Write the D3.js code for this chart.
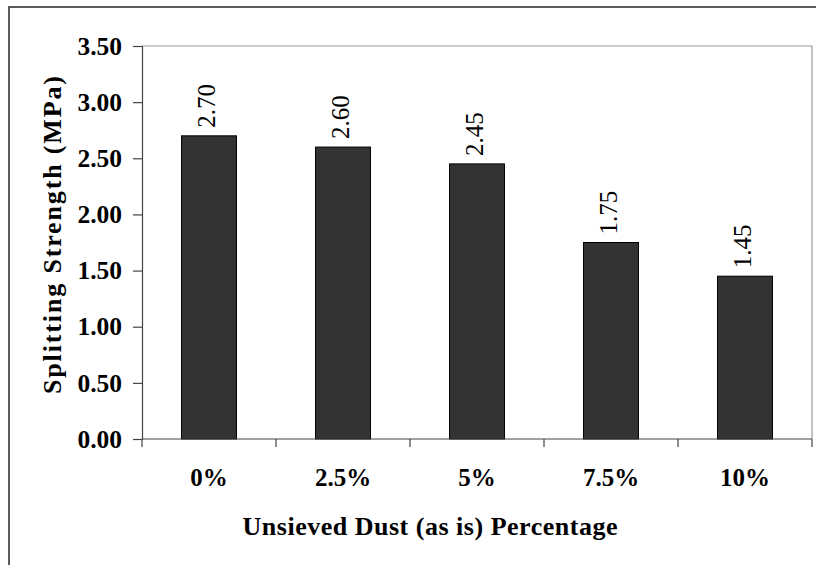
<!DOCTYPE html>
<html><head><meta charset="utf-8">
<script src="https://cdn.jsdelivr.net/npm/d3@7"></script>
<style>
html,body{margin:0;padding:0;background:#fff;}
svg{display:block;}
</style></head>
<body>
<svg id="chart" width="816" height="565"></svg>
<script>
const categories = ["0%", "2.5%", "5%", "7.5%", "10%"];
const values = [2.70, 2.60, 2.45, 1.75, 1.45];
const yTicks = [0, 0.5, 1.0, 1.5, 2.0, 2.5, 3.0, 3.5];
const yTitle = "Splitting Strength (MPa)";
const xTitle = "Unsieved Dust (as is) Percentage";

const svg = d3.select("#chart");
const W = 816, H = 565;
const plot = {left: 142, right: 812, top: 46, bottom: 439};
const font = "'Liberation Serif', 'Times New Roman', serif";

// outer frame
svg.append("rect").attr("x", 9).attr("y", 7).attr("width", W).attr("height", H)
  .attr("fill", "#fff").attr("stroke", "#333").attr("stroke-width", 1.6);

const x = d3.scaleBand().domain(categories).range([plot.left, plot.right])
  .paddingInner(0.59).paddingOuter(0.295);
const y = d3.scaleLinear().domain([0, 3.5]).range([plot.bottom, plot.top]);

// plot area border (top/right gray)
svg.append("path")
  .attr("d", `M${plot.left},${plot.top}H${plot.right}V${plot.bottom}`)
  .attr("fill", "none").attr("stroke", "#999").attr("stroke-width", 1.2);

// bars
svg.append("g").selectAll("rect").data(values).join("rect")
  .attr("x", (d, i) => x(categories[i]))
  .attr("y", d => y(d))
  .attr("width", x.bandwidth())
  .attr("height", d => y(0) - y(d))
  .attr("fill", "#333333").attr("stroke", "#000").attr("stroke-width", 1);

// value labels
svg.append("g").selectAll("text").data(values).join("text")
  .attr("transform", (d, i) => `translate(${x(categories[i]) + x.bandwidth() / 2 + 6},${y(d) - 8}) rotate(-90)`)
  .attr("text-anchor", "start")
  .attr("font-family", font).attr("font-size", 25).attr("fill", "#000")
  .text(d => d.toFixed(2));

// y axis
const yAxis = svg.append("g").attr("transform", `translate(${plot.left},0)`)
  .call(d3.axisLeft(y).tickValues(yTicks).tickFormat(d3.format(".2f")).tickSize(9).tickPadding(11));
yAxis.select(".domain").attr("stroke", "#444").attr("stroke-width", 1.2);
yAxis.selectAll(".tick line").attr("stroke", "#444").attr("stroke-width", 1.2);
yAxis.selectAll(".tick text").attr("font-family", font).attr("font-size", 25.5)
  .attr("font-weight", "bold").attr("fill", "#000");

// x axis line and ticks at category boundaries
const step = x.step();
const boundaries = d3.range(categories.length + 1).map(i => plot.left + i * step);
svg.append("line").attr("x1", plot.left).attr("x2", plot.right)
  .attr("y1", plot.bottom).attr("y2", plot.bottom)
  .attr("stroke", "#444").attr("stroke-width", 1.2);
svg.append("g").selectAll("line").data(boundaries).join("line")
  .attr("x1", d => d).attr("x2", d => d)
  .attr("y1", plot.bottom).attr("y2", plot.bottom + 8)
  .attr("stroke", "#444").attr("stroke-width", 1.2);
svg.append("g").selectAll("text").data(categories).join("text")
  .attr("x", d => x(d) + x.bandwidth() / 2)
  .attr("y", 486)
  .attr("text-anchor", "middle")
  .attr("font-family", font).attr("font-size", 25).attr("font-weight", "bold").attr("fill", "#000")
  .text(d => d);

// axis titles
svg.append("text").attr("x", 430).attr("y", 535).attr("text-anchor", "middle")
  .attr("font-family", font).attr("font-size", 26).attr("font-weight", "bold").attr("fill", "#000")
  .attr("textLength", 375).attr("lengthAdjust", "spacing")
  .text(xTitle);
svg.append("text").attr("transform", "translate(61,235) rotate(-90)").attr("text-anchor", "middle")
  .attr("font-family", font).attr("font-size", 26).attr("font-weight", "bold").attr("fill", "#000")
  .attr("textLength", 318).attr("lengthAdjust", "spacing")
  .text(yTitle);
</script>
</body></html>
